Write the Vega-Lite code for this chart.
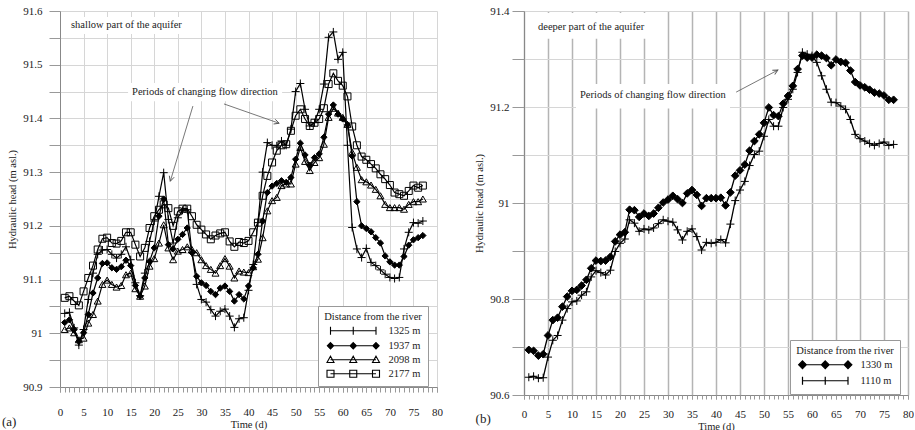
{
"$schema": "https://vega.github.io/schema/vega-lite/v6.json",
"background": "white",
"padding": {"left": 1, "top": 5, "right": 0, "bottom": 0},
"bounds": "flush",
"spacing": 87,
"resolve": {"scale": {"shape": "independent", "fill": "independent"}, "legend": {"shape": "independent", "fill": "independent"}},
"config": {
  "view": {"stroke": null},
  "font": "Liberation Serif",
  "axis": {"labelFont": "Liberation Serif", "titleFont": "Liberation Serif", "labelColor": "#222", "titleColor": "#222", "titleFontWeight": "normal", "labelFontSize": 11, "titleFontSize": 10.5, "domainColor": "#888", "tickColor": "#999", "labelFlush": false, "labelOverlap": false},
  "legend": {"titleFont": "Liberation Serif", "labelFont": "Liberation Serif", "titleFontSize": 10.5, "labelFontSize": 10.5, "titleFontWeight": "normal", "titleColor": "#222", "labelColor": "#222"}
},
"hconcat": [
{
  "width": 377, "height": 376,
  "resolve": {"axis": {"x": "independent", "y": "independent"}, "scale": {"shape": "independent", "fill": "independent"}, "legend": {"shape": "independent", "fill": "independent"}},
  "layer": [
    {"data": {"name": "left"}, "mark": {"type": "line", "color": "black", "strokeWidth": 1.2},
     "encoding": {
       "x": {"field": "d", "type": "quantitative", "scale": {"domain": [0, 80], "nice": false, "zero": false},
             "axis": {"orient": "bottom", "title": "Time (d)", "values": [0,5,10,15,20,25,30,35,40,45,50,55,60,65,70,75,80], "format": "d",
                      "grid": true, "gridColor": "#d6d6d6", "tickSize": 5, "labelPadding": 14, "titlePadding": 2}},
       "y": {"field": "h", "type": "quantitative", "scale": {"domain": [90.9, 91.6], "nice": false, "zero": false},
             "axis": {"orient": "left", "title": "Hydraulic head (m asl.)", "values": [90.9,91,91.1,91.2,91.3,91.4,91.5,91.6], "format": "~g",
                      "grid": true, "gridColor": "#d6d6d6", "tickSize": 11, "labelPadding": 7, "titlePadding": 5}},
       "detail": {"field": "s"}}},
    {"data": {"name": "boxL"}, "mark": {"type": "rect", "fill": "white"},
     "encoding": {"x": {"field": "x", "type": "quantitative", "axis": null}, "x2": {"field": "x2"}, "y": {"field": "y", "type": "quantitative", "axis": null}, "y2": {"field": "y2"}}},
    {"data": {"name": "left"}, "mark": {"type": "point", "filled": true, "stroke": "black", "strokeWidth": 1, "size": 49, "opacity": 1},
     "encoding": {
       "x": {"field": "d", "type": "quantitative",
             "axis": {"orient": "bottom", "title": null, "values": [0,1,2,3,4,5,6,7,8,9,10,11,12,13,14,15,16,17,18,19,20,21,22,23,24,25,26,27,28,29,30,31,32,33,34,35,36,37,38,39,40,41,42,43,44,45,46,47,48,49,50,51,52,53,54,55,56,57,58,59,60,61,62,63,64,65,66,67,68,69,70,71,72,73,74,75,76,77,78,79,80],
                      "labels": false, "grid": false, "domain": false, "tickSize": 5}},
       "y": {"field": "h", "type": "quantitative",
             "axis": {"orient": "left", "title": null, "values": [90.95,91.05,91.15,91.25,91.35,91.45,91.55], "labels": false, "grid": true, "gridColor": "#d6d6d6", "domain": false, "tickSize": 11}},
       "fill": {"field": "s", "type": "nominal", "scale": {"domain": ["1325 m", "1937 m", "2098 m", "2177 m"], "range": ["transparent", "black", "transparent", "transparent"]}, "legend": null},
       "shape": {"field": "s", "type": "nominal",
                 "scale": {"domain": ["1325 m", "1937 m", "2098 m", "2177 m"], "range": ["M-1.15,0L1.15,0M0,-1.15L0,1.15", "M0,-0.9L0.9,0L0,0.9L-0.9,0Z", "triangle-up", "square"]},
                 "legend": null}}},
    {"data": {"name": "left"}, "transform": [{"filter": "datum.d < 0"}],
     "mark": {"type": "point", "filled": true, "stroke": "black", "strokeWidth": 1.1, "opacity": 1},
     "encoding": {
       "x": {"field": "d", "type": "quantitative", "axis": null},
       "y": {"field": "h", "type": "quantitative", "axis": null},
       "fill": {"field": "s", "type": "nominal", "scale": {"domain": ["1325 m", "1937 m", "2098 m", "2177 m"], "range": ["transparent", "black", "transparent", "transparent"]}, "legend": null},
       "shape": {"field": "s", "type": "nominal",
                 "scale": {"domain": ["1325 m", "1937 m", "2098 m", "2177 m"],
                           "range": ["M-6.5,0L6.5,0M-6.5,-1.15L-6.5,1.15M0,-1.15L0,1.15M6.5,-1.15L6.5,1.15",
                                     "M-6.5,0L6.5,0M-6.5,-0.9L-5.6,0L-6.5,0.9L-7.4,0ZM0,-0.9L0.9,0L0,0.9L-0.9,0ZM6.5,-0.9L7.4,0L6.5,0.9L5.6,0Z",
                                     "M-6.5,0L6.5,0M-6.5,-1L-5.5,0.8L-7.5,0.8ZM0,-1L1,0.8L-1,0.8ZM6.5,-1L7.5,0.8L5.5,0.8Z",
                                     "M-6.5,0L6.5,0M-7.5,-1H-5.5V1H-7.5ZM-1,-1H1V1H-1ZM5.5,-1H7.5V1H5.5Z"]},
                 "legend": {"title": "Distance from the river", "orient": "none", "legendX": 258, "legendY": 295, "padding": 6, "strokeColor": "#999", "fillColor": "white",
                            "titleAnchor": "middle", "titlePadding": 3, "symbolSize": 49, "symbolOffset": 22, "labelOffset": 30, "rowPadding": 2, "symbolStrokeWidth": 1.1}}}},
    {"data": {"name": "txtL"}, "mark": {"type": "text", "align": "left", "baseline": "middle", "font": "Liberation Serif", "fontSize": 10.5, "color": "#222"},
     "encoding": {"x": {"field": "x", "type": "quantitative", "axis": null}, "y": {"field": "y", "type": "quantitative", "axis": null}, "text": {"field": "t"}}},
    {"data": {"name": "arrL"}, "mark": {"type": "rule", "color": "#555", "strokeWidth": 0.8},
     "encoding": {"x": {"field": "x", "type": "quantitative", "axis": null}, "y": {"field": "y", "type": "quantitative", "axis": null}, "x2": {"field": "x2"}, "y2": {"field": "y2"}}},
    {"data": {"name": "arrL"}, "transform": [{"filter": "datum.id === 'a1'"}],
     "mark": {"type": "point", "shape": "M-1,2L0,0L1,2", "angle": 197, "size": 25, "filled": false, "stroke": "#555", "strokeWidth": 0.9, "opacity": 1},
     "encoding": {"x": {"field": "x2", "type": "quantitative", "axis": null}, "y": {"field": "y2", "type": "quantitative", "axis": null}}},
    {"data": {"name": "arrL"}, "transform": [{"filter": "datum.id === 'a2'"}],
     "mark": {"type": "point", "shape": "M-1,2L0,0L1,2", "angle": 109, "size": 25, "filled": false, "stroke": "#555", "strokeWidth": 0.9, "opacity": 1},
     "encoding": {"x": {"field": "x2", "type": "quantitative", "axis": null}, "y": {"field": "y2", "type": "quantitative", "axis": null}}},
    {"data": {"values": [{"x": -10.8, "y": 90.834, "t": "(a)"}]}, "mark": {"type": "text", "align": "center", "baseline": "middle", "font": "Liberation Serif", "fontSize": 13, "color": "#222"},
     "encoding": {"x": {"field": "x", "type": "quantitative", "axis": null}, "y": {"field": "y", "type": "quantitative", "axis": null}, "text": {"field": "t"}}}
  ]
},
{
  "width": 384, "height": 384,
  "resolve": {"axis": {"x": "independent", "y": "independent"}, "scale": {"shape": "independent", "fill": "independent"}, "legend": {"shape": "independent", "fill": "independent"}},
  "layer": [
    {"data": {"name": "right"}, "mark": {"type": "line", "color": "black", "strokeWidth": 1.3},
     "encoding": {
       "x": {"field": "d", "type": "quantitative", "scale": {"domain": [0, 80], "nice": false, "zero": false},
             "axis": {"orient": "bottom", "title": "Time (d)", "values": [0,5,10,15,20,25,30,35,40,45,50,55,60,65,70,75,80], "format": "d",
                      "grid": true, "gridColor": "#b4b4b4", "gridWidth": 1.5, "tickSize": 4, "labelPadding": 9, "titlePadding": 2}},
       "y": {"field": "h", "type": "quantitative", "scale": {"domain": [90.6, 91.4], "nice": false, "zero": false},
             "axis": {"orient": "left", "title": "Hydraulic head (m asl.)", "values": [90.6,90.8,91,91.2,91.4], "format": "~g",
                      "grid": true, "gridColor": "#d6d6d6", "tickSize": 12, "labelPadding": 3, "titlePadding": 5}},
       "detail": {"field": "s"}}},
    {"data": {"name": "boxR"}, "mark": {"type": "rect", "fill": "white"},
     "encoding": {"x": {"field": "x", "type": "quantitative", "axis": null}, "x2": {"field": "x2"}, "y": {"field": "y", "type": "quantitative", "axis": null}, "y2": {"field": "y2"}}},
    {"data": {"name": "right"}, "mark": {"type": "point", "filled": true, "stroke": "black", "strokeWidth": 1, "size": 49, "opacity": 1},
     "encoding": {
       "x": {"field": "d", "type": "quantitative",
             "axis": {"orient": "bottom", "title": null, "values": [0,1,2,3,4,5,6,7,8,9,10,11,12,13,14,15,16,17,18,19,20,21,22,23,24,25,26,27,28,29,30,31,32,33,34,35,36,37,38,39,40,41,42,43,44,45,46,47,48,49,50,51,52,53,54,55,56,57,58,59,60,61,62,63,64,65,66,67,68,69,70,71,72,73,74,75,76,77,78,79,80],
                      "labels": false, "grid": false, "domain": false, "tickSize": 4}},
       "y": {"field": "h", "type": "quantitative",
             "axis": {"orient": "left", "title": null, "values": [90.7,90.9,91.1,91.3], "labels": false, "grid": true, "gridColor": "#d6d6d6", "domain": false, "tickSize": 12}},
       "fill": {"field": "s", "type": "nominal", "scale": {"domain": ["1330 m", "1110 m"], "range": ["black", "transparent"]}, "legend": null},
       "shape": {"field": "s", "type": "nominal",
                 "scale": {"domain": ["1330 m", "1110 m"], "range": ["M0,-1.1L1.1,0L0,1.1L-1.1,0Z", "M-1.15,0L1.15,0M0,-1.15L0,1.15"]},
                 "legend": null}}},
    {"data": {"name": "right"}, "transform": [{"filter": "datum.d < 0"}],
     "mark": {"type": "point", "filled": true, "stroke": "black", "strokeWidth": 1.2, "opacity": 1},
     "encoding": {
       "x": {"field": "d", "type": "quantitative", "axis": null},
       "y": {"field": "h", "type": "quantitative", "axis": null},
       "fill": {"field": "s", "type": "nominal", "scale": {"domain": ["1330 m", "1110 m"], "range": ["black", "transparent"]}, "legend": null},
       "shape": {"field": "s", "type": "nominal",
                 "scale": {"domain": ["1330 m", "1110 m"],
                           "range": ["M-6.5,0L6.5,0M-6.5,-1.1L-5.4,0L-6.5,1.1L-7.6,0ZM0,-1.1L1.1,0L0,1.1L-1.1,0ZM6.5,-1.1L7.6,0L6.5,1.1L5.4,0Z",
                                     "M-6.5,0L6.5,0M-6.5,-1.15L-6.5,1.15M0,-1.15L0,1.15M6.5,-1.15L6.5,1.15"]},
                 "legend": {"title": "Distance from the river", "orient": "none", "legendX": 266, "legendY": 329, "padding": 6, "strokeColor": "#999", "fillColor": "white",
                            "titleAnchor": "middle", "titlePadding": 3, "symbolSize": 49, "symbolOffset": 22, "labelOffset": 30, "rowPadding": 2, "symbolStrokeWidth": 1.2}}}},
    {"data": {"name": "txtR"}, "mark": {"type": "text", "align": "left", "baseline": "middle", "font": "Liberation Serif", "fontSize": 10.5, "color": "#222"},
     "encoding": {"x": {"field": "x", "type": "quantitative", "axis": null}, "y": {"field": "y", "type": "quantitative", "axis": null}, "text": {"field": "t"}}},
    {"data": {"name": "arrR"}, "mark": {"type": "rule", "color": "#555", "strokeWidth": 0.8},
     "encoding": {"x": {"field": "x", "type": "quantitative", "axis": null}, "y": {"field": "y", "type": "quantitative", "axis": null}, "x2": {"field": "x2"}, "y2": {"field": "y2"}}},
    {"data": {"name": "arrR"},
     "mark": {"type": "point", "shape": "M-1,2L0,0L1,2", "angle": 62, "size": 25, "filled": false, "stroke": "#555", "strokeWidth": 0.9, "opacity": 1},
     "encoding": {"x": {"field": "x2", "type": "quantitative", "axis": null}, "y": {"field": "y2", "type": "quantitative", "axis": null}}},
    {"data": {"values": [{"x": -8.5, "y": 90.55, "t": "(b)"}]}, "mark": {"type": "text", "align": "center", "baseline": "middle", "font": "Liberation Serif", "fontSize": 13, "color": "#222"},
     "encoding": {"x": {"field": "x", "type": "quantitative", "axis": null}, "y": {"field": "y", "type": "quantitative", "axis": null}, "text": {"field": "t"}}}
  ]
}
],
"datasets": {
"boxL": [{"x": 1.5, "x2": 26.75, "y": 91.589, "y2": 91.557}, {"x": 14.44, "x2": 47.13, "y": 91.466, "y2": 91.432}],
"boxR": [{"x": 2.08, "x2": 26.9, "y": 91.396, "y2": 91.342}, {"x": 10.83, "x2": 42.92, "y": 91.248, "y2": 91.197}],
"txtL": [{"x": 2.34, "y": 91.574, "t": "shallow part of the aquifer"}, {"x": 15.29, "y": 91.449, "t": "Periods of changing flow direction"}],
"txtR": [{"x": 2.92, "y": 91.367, "t": "deeper part of the aquifer"}, {"x": 11.67, "y": 91.225, "t": "Periods of changing flow direction"}],
"arrL": [{"id": "a1", "x": 28.2, "y": 91.423, "x2": 23.4, "y2": 91.283}, {"id": "a2", "x": 34.8, "y": 91.427, "x2": 46.5, "y2": 91.391}],
"arrR": [{"id": "b1", "x": 44.2, "y": 91.231, "x2": 52.9, "y2": 91.277}],
"left": [
{"d":1,"s":"1325 m","h":91.037},{"d":2,"s":"1325 m","h":91.039},{"d":3,"s":"1325 m","h":91.010},{"d":4,"s":"1325 m","h":90.978},{"d":5,"s":"1325 m","h":91.007},{"d":6,"s":"1325 m","h":91.063},{"d":7,"s":"1325 m","h":91.112},{"d":8,"s":"1325 m","h":91.147},{"d":9,"s":"1325 m","h":91.155},{"d":10,"s":"1325 m","h":91.156},
{"d":11,"s":"1325 m","h":91.147},{"d":12,"s":"1325 m","h":91.140},{"d":13,"s":"1325 m","h":91.147},{"d":14,"s":"1325 m","h":91.161},{"d":15,"s":"1325 m","h":91.137},{"d":16,"s":"1325 m","h":91.094},{"d":17,"s":"1325 m","h":91.070},{"d":18,"s":"1325 m","h":91.112},{"d":19,"s":"1325 m","h":91.171},{"d":20,"s":"1325 m","h":91.209},
{"d":21,"s":"1325 m","h":91.255},{"d":22,"s":"1325 m","h":91.299},{"d":23,"s":"1325 m","h":91.212},{"d":24,"s":"1325 m","h":91.168},{"d":25,"s":"1325 m","h":91.215},{"d":26,"s":"1325 m","h":91.229},{"d":27,"s":"1325 m","h":91.230},{"d":28,"s":"1325 m","h":91.150},{"d":29,"s":"1325 m","h":91.091},{"d":30,"s":"1325 m","h":91.063},
{"d":31,"s":"1325 m","h":91.058},{"d":32,"s":"1325 m","h":91.044},{"d":33,"s":"1325 m","h":91.032},{"d":34,"s":"1325 m","h":91.041},{"d":35,"s":"1325 m","h":91.045},{"d":36,"s":"1325 m","h":91.032},{"d":37,"s":"1325 m","h":91.011},{"d":38,"s":"1325 m","h":91.027},{"d":39,"s":"1325 m","h":91.029},{"d":40,"s":"1325 m","h":91.080},
{"d":41,"s":"1325 m","h":91.128},{"d":42,"s":"1325 m","h":91.206},{"d":43,"s":"1325 m","h":91.300},{"d":44,"s":"1325 m","h":91.355},{"d":45,"s":"1325 m","h":91.350},{"d":46,"s":"1325 m","h":91.349},{"d":47,"s":"1325 m","h":91.358},{"d":48,"s":"1325 m","h":91.350},{"d":49,"s":"1325 m","h":91.380},{"d":50,"s":"1325 m","h":91.450},
{"d":51,"s":"1325 m","h":91.465},{"d":52,"s":"1325 m","h":91.417},{"d":53,"s":"1325 m","h":91.386},{"d":54,"s":"1325 m","h":91.392},{"d":55,"s":"1325 m","h":91.417},{"d":56,"s":"1325 m","h":91.464},{"d":57,"s":"1325 m","h":91.551},{"d":58,"s":"1325 m","h":91.561},{"d":59,"s":"1325 m","h":91.510},{"d":60,"s":"1325 m","h":91.523},
{"d":61,"s":"1325 m","h":91.350},{"d":62,"s":"1325 m","h":91.197},{"d":63,"s":"1325 m","h":91.157},{"d":64,"s":"1325 m","h":91.141},{"d":65,"s":"1325 m","h":91.158},{"d":66,"s":"1325 m","h":91.132},{"d":67,"s":"1325 m","h":91.126},{"d":68,"s":"1325 m","h":91.118},{"d":69,"s":"1325 m","h":91.110},{"d":70,"s":"1325 m","h":91.104},
{"d":71,"s":"1325 m","h":91.102},{"d":72,"s":"1325 m","h":91.104},{"d":73,"s":"1325 m","h":91.157},{"d":74,"s":"1325 m","h":91.188},{"d":75,"s":"1325 m","h":91.206},{"d":76,"s":"1325 m","h":91.205},{"d":77,"s":"1325 m","h":91.209},
{"d":1,"s":"1937 m","h":91.020},{"d":2,"s":"1937 m","h":91.025},{"d":3,"s":"1937 m","h":91.007},{"d":4,"s":"1937 m","h":90.985},{"d":5,"s":"1937 m","h":91.001},{"d":6,"s":"1937 m","h":91.035},{"d":7,"s":"1937 m","h":91.075},{"d":8,"s":"1937 m","h":91.103},{"d":9,"s":"1937 m","h":91.130},{"d":10,"s":"1937 m","h":91.131},
{"d":11,"s":"1937 m","h":91.122},{"d":12,"s":"1937 m","h":91.119},{"d":13,"s":"1937 m","h":91.124},{"d":14,"s":"1937 m","h":91.136},{"d":15,"s":"1937 m","h":91.126},{"d":16,"s":"1937 m","h":91.089},{"d":17,"s":"1937 m","h":91.069},{"d":18,"s":"1937 m","h":91.103},{"d":19,"s":"1937 m","h":91.134},{"d":20,"s":"1937 m","h":91.159},
{"d":21,"s":"1937 m","h":91.218},{"d":22,"s":"1937 m","h":91.250},{"d":23,"s":"1937 m","h":91.165},{"d":24,"s":"1937 m","h":91.157},{"d":25,"s":"1937 m","h":91.175},{"d":26,"s":"1937 m","h":91.184},{"d":27,"s":"1937 m","h":91.196},{"d":28,"s":"1937 m","h":91.150},{"d":29,"s":"1937 m","h":91.106},{"d":30,"s":"1937 m","h":91.094},
{"d":31,"s":"1937 m","h":91.089},{"d":32,"s":"1937 m","h":91.078},{"d":33,"s":"1937 m","h":91.072},{"d":34,"s":"1937 m","h":91.084},{"d":35,"s":"1937 m","h":91.088},{"d":36,"s":"1937 m","h":91.078},{"d":37,"s":"1937 m","h":91.060},{"d":38,"s":"1937 m","h":91.072},{"d":39,"s":"1937 m","h":91.064},{"d":40,"s":"1937 m","h":91.088},
{"d":41,"s":"1937 m","h":91.122},{"d":42,"s":"1937 m","h":91.147},{"d":43,"s":"1937 m","h":91.209},{"d":44,"s":"1937 m","h":91.262},{"d":45,"s":"1937 m","h":91.274},{"d":46,"s":"1937 m","h":91.279},{"d":47,"s":"1937 m","h":91.284},{"d":48,"s":"1937 m","h":91.281},{"d":49,"s":"1937 m","h":91.290},{"d":50,"s":"1937 m","h":91.324},
{"d":51,"s":"1937 m","h":91.354},{"d":52,"s":"1937 m","h":91.332},{"d":53,"s":"1937 m","h":91.313},{"d":54,"s":"1937 m","h":91.327},{"d":55,"s":"1937 m","h":91.334},{"d":56,"s":"1937 m","h":91.365},{"d":57,"s":"1937 m","h":91.408},{"d":58,"s":"1937 m","h":91.425},{"d":59,"s":"1937 m","h":91.408},{"d":60,"s":"1937 m","h":91.399},
{"d":61,"s":"1937 m","h":91.388},{"d":62,"s":"1937 m","h":91.330},{"d":63,"s":"1937 m","h":91.245},{"d":64,"s":"1937 m","h":91.200},{"d":65,"s":"1937 m","h":91.195},{"d":66,"s":"1937 m","h":91.189},{"d":67,"s":"1937 m","h":91.178},{"d":68,"s":"1937 m","h":91.168},{"d":69,"s":"1937 m","h":91.144},{"d":70,"s":"1937 m","h":91.133},
{"d":71,"s":"1937 m","h":91.127},{"d":72,"s":"1937 m","h":91.127},{"d":73,"s":"1937 m","h":91.143},{"d":74,"s":"1937 m","h":91.164},{"d":75,"s":"1937 m","h":91.174},{"d":76,"s":"1937 m","h":91.178},{"d":77,"s":"1937 m","h":91.182},
{"d":1,"s":"2098 m","h":91.007},{"d":2,"s":"2098 m","h":91.010},{"d":3,"s":"2098 m","h":91.001},{"d":4,"s":"2098 m","h":90.988},{"d":5,"s":"2098 m","h":90.991},{"d":6,"s":"2098 m","h":91.019},{"d":7,"s":"2098 m","h":91.035},{"d":8,"s":"2098 m","h":91.060},{"d":9,"s":"2098 m","h":91.091},{"d":10,"s":"2098 m","h":91.099},
{"d":11,"s":"2098 m","h":91.091},{"d":12,"s":"2098 m","h":91.086},{"d":13,"s":"2098 m","h":91.089},{"d":14,"s":"2098 m","h":91.109},{"d":15,"s":"2098 m","h":91.112},{"d":16,"s":"2098 m","h":91.083},{"d":17,"s":"2098 m","h":91.069},{"d":18,"s":"2098 m","h":91.088},{"d":19,"s":"2098 m","h":91.125},{"d":20,"s":"2098 m","h":91.139},
{"d":21,"s":"2098 m","h":91.168},{"d":22,"s":"2098 m","h":91.202},{"d":23,"s":"2098 m","h":91.159},{"d":24,"s":"2098 m","h":91.137},{"d":25,"s":"2098 m","h":91.153},{"d":26,"s":"2098 m","h":91.156},{"d":27,"s":"2098 m","h":91.161},{"d":28,"s":"2098 m","h":91.156},{"d":29,"s":"2098 m","h":91.150},{"d":30,"s":"2098 m","h":91.137},
{"d":31,"s":"2098 m","h":91.126},{"d":32,"s":"2098 m","h":91.119},{"d":33,"s":"2098 m","h":91.112},{"d":34,"s":"2098 m","h":91.126},{"d":35,"s":"2098 m","h":91.139},{"d":36,"s":"2098 m","h":91.125},{"d":37,"s":"2098 m","h":91.103},{"d":38,"s":"2098 m","h":91.116},{"d":39,"s":"2098 m","h":91.114},{"d":40,"s":"2098 m","h":91.113},
{"d":41,"s":"2098 m","h":91.124},{"d":42,"s":"2098 m","h":91.138},{"d":43,"s":"2098 m","h":91.178},{"d":44,"s":"2098 m","h":91.228},{"d":45,"s":"2098 m","h":91.247},{"d":46,"s":"2098 m","h":91.253},{"d":47,"s":"2098 m","h":91.275},{"d":48,"s":"2098 m","h":91.278},{"d":49,"s":"2098 m","h":91.278},{"d":50,"s":"2098 m","h":91.315},
{"d":51,"s":"2098 m","h":91.346},{"d":52,"s":"2098 m","h":91.320},{"d":53,"s":"2098 m","h":91.303},{"d":54,"s":"2098 m","h":91.318},{"d":55,"s":"2098 m","h":91.327},{"d":56,"s":"2098 m","h":91.352},{"d":57,"s":"2098 m","h":91.402},{"d":58,"s":"2098 m","h":91.419},{"d":59,"s":"2098 m","h":91.410},{"d":60,"s":"2098 m","h":91.402},
{"d":61,"s":"2098 m","h":91.389},{"d":62,"s":"2098 m","h":91.337},{"d":63,"s":"2098 m","h":91.309},{"d":64,"s":"2098 m","h":91.286},{"d":65,"s":"2098 m","h":91.282},{"d":66,"s":"2098 m","h":91.276},{"d":67,"s":"2098 m","h":91.268},{"d":68,"s":"2098 m","h":91.256},{"d":69,"s":"2098 m","h":91.240},{"d":70,"s":"2098 m","h":91.234},
{"d":71,"s":"2098 m","h":91.234},{"d":72,"s":"2098 m","h":91.234},{"d":73,"s":"2098 m","h":91.231},{"d":74,"s":"2098 m","h":91.240},{"d":75,"s":"2098 m","h":91.245},{"d":76,"s":"2098 m","h":91.245},{"d":77,"s":"2098 m","h":91.250},
{"d":1,"s":"2177 m","h":91.066},{"d":2,"s":"2177 m","h":91.069},{"d":3,"s":"2177 m","h":91.060},{"d":4,"s":"2177 m","h":91.052},{"d":5,"s":"2177 m","h":91.078},{"d":6,"s":"2177 m","h":91.103},{"d":7,"s":"2177 m","h":91.126},{"d":8,"s":"2177 m","h":91.156},{"d":9,"s":"2177 m","h":91.176},{"d":10,"s":"2177 m","h":91.178},
{"d":11,"s":"2177 m","h":91.168},{"d":12,"s":"2177 m","h":91.167},{"d":13,"s":"2177 m","h":91.172},{"d":14,"s":"2177 m","h":91.188},{"d":15,"s":"2177 m","h":91.188},{"d":16,"s":"2177 m","h":91.165},{"d":17,"s":"2177 m","h":91.143},{"d":18,"s":"2177 m","h":91.159},{"d":19,"s":"2177 m","h":91.196},{"d":20,"s":"2177 m","h":91.218},
{"d":21,"s":"2177 m","h":91.230},{"d":22,"s":"2177 m","h":91.240},{"d":23,"s":"2177 m","h":91.233},{"d":24,"s":"2177 m","h":91.200},{"d":25,"s":"2177 m","h":91.227},{"d":26,"s":"2177 m","h":91.232},{"d":27,"s":"2177 m","h":91.232},{"d":28,"s":"2177 m","h":91.218},{"d":29,"s":"2177 m","h":91.202},{"d":30,"s":"2177 m","h":91.193},
{"d":31,"s":"2177 m","h":91.184},{"d":32,"s":"2177 m","h":91.175},{"d":33,"s":"2177 m","h":91.182},{"d":34,"s":"2177 m","h":91.186},{"d":35,"s":"2177 m","h":91.188},{"d":36,"s":"2177 m","h":91.171},{"d":37,"s":"2177 m","h":91.161},{"d":38,"s":"2177 m","h":91.170},{"d":39,"s":"2177 m","h":91.168},{"d":40,"s":"2177 m","h":91.172},
{"d":41,"s":"2177 m","h":91.188},{"d":42,"s":"2177 m","h":91.206},{"d":43,"s":"2177 m","h":91.256},{"d":44,"s":"2177 m","h":91.293},{"d":45,"s":"2177 m","h":91.318},{"d":46,"s":"2177 m","h":91.340},{"d":47,"s":"2177 m","h":91.350},{"d":48,"s":"2177 m","h":91.352},{"d":49,"s":"2177 m","h":91.377},{"d":50,"s":"2177 m","h":91.405},
{"d":51,"s":"2177 m","h":91.417},{"d":52,"s":"2177 m","h":91.399},{"d":53,"s":"2177 m","h":91.386},{"d":54,"s":"2177 m","h":91.392},{"d":55,"s":"2177 m","h":91.399},{"d":56,"s":"2177 m","h":91.419},{"d":57,"s":"2177 m","h":91.464},{"d":58,"s":"2177 m","h":91.484},{"d":59,"s":"2177 m","h":91.470},{"d":60,"s":"2177 m","h":91.461},
{"d":61,"s":"2177 m","h":91.441},{"d":62,"s":"2177 m","h":91.385},{"d":63,"s":"2177 m","h":91.350},{"d":64,"s":"2177 m","h":91.329},{"d":65,"s":"2177 m","h":91.323},{"d":66,"s":"2177 m","h":91.315},{"d":67,"s":"2177 m","h":91.307},{"d":68,"s":"2177 m","h":91.296},{"d":69,"s":"2177 m","h":91.287},{"d":70,"s":"2177 m","h":91.276},
{"d":71,"s":"2177 m","h":91.262},{"d":72,"s":"2177 m","h":91.259},{"d":73,"s":"2177 m","h":91.256},{"d":74,"s":"2177 m","h":91.265},{"d":75,"s":"2177 m","h":91.275},{"d":76,"s":"2177 m","h":91.271},{"d":77,"s":"2177 m","h":91.275}
],
"right": [
{"d":1,"s":"1330 m","h":90.694},{"d":2,"s":"1330 m","h":90.692},{"d":3,"s":"1330 m","h":90.682},{"d":4,"s":"1330 m","h":90.685},{"d":5,"s":"1330 m","h":90.724},{"d":6,"s":"1330 m","h":90.756},{"d":7,"s":"1330 m","h":90.761},{"d":8,"s":"1330 m","h":90.784},{"d":9,"s":"1330 m","h":90.805},{"d":10,"s":"1330 m","h":90.817},
{"d":11,"s":"1330 m","h":90.819},{"d":12,"s":"1330 m","h":90.828},{"d":13,"s":"1330 m","h":90.840},{"d":14,"s":"1330 m","h":90.864},{"d":15,"s":"1330 m","h":90.880},{"d":16,"s":"1330 m","h":90.879},{"d":17,"s":"1330 m","h":90.880},{"d":18,"s":"1330 m","h":90.888},{"d":19,"s":"1330 m","h":90.920},{"d":20,"s":"1330 m","h":90.934},
{"d":21,"s":"1330 m","h":90.939},{"d":22,"s":"1330 m","h":90.986},{"d":23,"s":"1330 m","h":90.985},{"d":24,"s":"1330 m","h":90.971},{"d":25,"s":"1330 m","h":90.978},{"d":26,"s":"1330 m","h":90.973},{"d":27,"s":"1330 m","h":90.978},{"d":28,"s":"1330 m","h":90.990},{"d":29,"s":"1330 m","h":91.001},{"d":30,"s":"1330 m","h":91.007},
{"d":31,"s":"1330 m","h":91.015},{"d":32,"s":"1330 m","h":91.008},{"d":33,"s":"1330 m","h":91.000},{"d":34,"s":"1330 m","h":91.020},{"d":35,"s":"1330 m","h":91.027},{"d":36,"s":"1330 m","h":91.017},{"d":37,"s":"1330 m","h":90.994},{"d":38,"s":"1330 m","h":91.010},{"d":39,"s":"1330 m","h":91.010},{"d":40,"s":"1330 m","h":91.010},
{"d":41,"s":"1330 m","h":91.011},{"d":42,"s":"1330 m","h":90.995},{"d":43,"s":"1330 m","h":91.022},{"d":44,"s":"1330 m","h":91.057},{"d":45,"s":"1330 m","h":91.068},{"d":46,"s":"1330 m","h":91.080},{"d":47,"s":"1330 m","h":91.109},{"d":48,"s":"1330 m","h":91.129},{"d":49,"s":"1330 m","h":91.143},{"d":50,"s":"1330 m","h":91.167},
{"d":51,"s":"1330 m","h":91.199},{"d":52,"s":"1330 m","h":91.183},{"d":53,"s":"1330 m","h":91.181},{"d":54,"s":"1330 m","h":91.207},{"d":55,"s":"1330 m","h":91.223},{"d":56,"s":"1330 m","h":91.244},{"d":57,"s":"1330 m","h":91.279},{"d":58,"s":"1330 m","h":91.307},{"d":59,"s":"1330 m","h":91.303},{"d":60,"s":"1330 m","h":91.303},
{"d":61,"s":"1330 m","h":91.309},{"d":62,"s":"1330 m","h":91.307},{"d":63,"s":"1330 m","h":91.302},{"d":64,"s":"1330 m","h":91.287},{"d":65,"s":"1330 m","h":91.299},{"d":66,"s":"1330 m","h":91.294},{"d":67,"s":"1330 m","h":91.292},{"d":68,"s":"1330 m","h":91.276},{"d":69,"s":"1330 m","h":91.252},{"d":70,"s":"1330 m","h":91.245},
{"d":71,"s":"1330 m","h":91.241},{"d":72,"s":"1330 m","h":91.236},{"d":73,"s":"1330 m","h":91.230},{"d":74,"s":"1330 m","h":91.228},{"d":75,"s":"1330 m","h":91.224},{"d":76,"s":"1330 m","h":91.215},{"d":77,"s":"1330 m","h":91.215},
{"d":1,"s":"1110 m","h":90.637},{"d":2,"s":"1110 m","h":90.639},{"d":3,"s":"1110 m","h":90.635},{"d":4,"s":"1110 m","h":90.636},{"d":5,"s":"1110 m","h":90.679},{"d":6,"s":"1110 m","h":90.714},{"d":7,"s":"1110 m","h":90.724},{"d":8,"s":"1110 m","h":90.756},{"d":9,"s":"1110 m","h":90.780},{"d":10,"s":"1110 m","h":90.794},
{"d":11,"s":"1110 m","h":90.796},{"d":12,"s":"1110 m","h":90.808},{"d":13,"s":"1110 m","h":90.815},{"d":14,"s":"1110 m","h":90.846},{"d":15,"s":"1110 m","h":90.859},{"d":16,"s":"1110 m","h":90.855},{"d":17,"s":"1110 m","h":90.850},{"d":18,"s":"1110 m","h":90.860},{"d":19,"s":"1110 m","h":90.899},{"d":20,"s":"1110 m","h":90.916},
{"d":21,"s":"1110 m","h":90.925},{"d":22,"s":"1110 m","h":90.965},{"d":23,"s":"1110 m","h":90.958},{"d":24,"s":"1110 m","h":90.941},{"d":25,"s":"1110 m","h":90.946},{"d":26,"s":"1110 m","h":90.944},{"d":27,"s":"1110 m","h":90.948},{"d":28,"s":"1110 m","h":90.957},{"d":29,"s":"1110 m","h":90.965},{"d":30,"s":"1110 m","h":90.962},
{"d":31,"s":"1110 m","h":90.960},{"d":32,"s":"1110 m","h":90.944},{"d":33,"s":"1110 m","h":90.923},{"d":34,"s":"1110 m","h":90.941},{"d":35,"s":"1110 m","h":90.946},{"d":36,"s":"1110 m","h":90.930},{"d":37,"s":"1110 m","h":90.902},{"d":38,"s":"1110 m","h":90.918},{"d":39,"s":"1110 m","h":90.916},{"d":40,"s":"1110 m","h":90.918},
{"d":41,"s":"1110 m","h":90.924},{"d":42,"s":"1110 m","h":90.917},{"d":43,"s":"1110 m","h":90.956},{"d":44,"s":"1110 m","h":91.005},{"d":45,"s":"1110 m","h":91.027},{"d":46,"s":"1110 m","h":91.045},{"d":47,"s":"1110 m","h":91.078},{"d":48,"s":"1110 m","h":91.101},{"d":49,"s":"1110 m","h":91.108},{"d":50,"s":"1110 m","h":91.139},
{"d":51,"s":"1110 m","h":91.174},{"d":52,"s":"1110 m","h":91.160},{"d":53,"s":"1110 m","h":91.160},{"d":54,"s":"1110 m","h":91.199},{"d":55,"s":"1110 m","h":91.216},{"d":56,"s":"1110 m","h":91.237},{"d":57,"s":"1110 m","h":91.272},{"d":58,"s":"1110 m","h":91.314},{"d":59,"s":"1110 m","h":91.310},{"d":60,"s":"1110 m","h":91.307},
{"d":61,"s":"1110 m","h":91.293},{"d":62,"s":"1110 m","h":91.265},{"d":63,"s":"1110 m","h":91.237},{"d":64,"s":"1110 m","h":91.210},{"d":65,"s":"1110 m","h":91.209},{"d":66,"s":"1110 m","h":91.202},{"d":67,"s":"1110 m","h":91.195},{"d":68,"s":"1110 m","h":91.174},{"d":69,"s":"1110 m","h":91.143},{"d":70,"s":"1110 m","h":91.134},
{"d":71,"s":"1110 m","h":91.129},{"d":72,"s":"1110 m","h":91.124},{"d":73,"s":"1110 m","h":91.120},{"d":74,"s":"1110 m","h":91.124},{"d":75,"s":"1110 m","h":91.127},{"d":76,"s":"1110 m","h":91.120},{"d":77,"s":"1110 m","h":91.122}
]
}
}
